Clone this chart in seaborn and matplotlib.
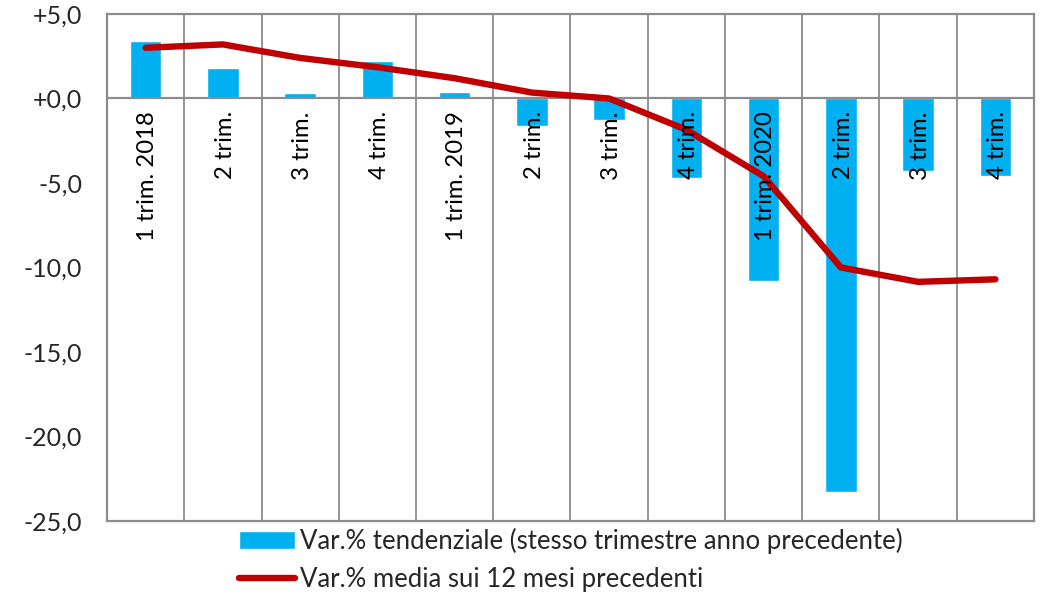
import numpy as np
import pandas as pd
import matplotlib
matplotlib.use("Agg")
import matplotlib.pyplot as plt
import seaborn as sns

# --- data ---
quarters = ["Q1 2018", "Q2 2018", "Q3 2018", "Q4 2018",
            "Q1 2019", "Q2 2019", "Q3 2019", "Q4 2019",
            "Q1 2020", "Q2 2020", "Q3 2020", "Q4 2020"]
quarter_labels = ["1 trim. 2018", "2 trim.", "3 trim.", "4 trim.",
                  "1 trim. 2019", "2 trim.", "3 trim.", "4 trim.",
                  "1 trim. 2020", "2 trim.", "3 trim.", "4 trim."]
var_tendenziale = [3.4, 1.8, 0.3, 2.2, 0.4, -1.6, -1.3, -4.7, -10.8, -23.3, -4.3, -4.6]
var_media_12m = [3.0, 3.2, 2.4, 1.85, 1.2, 0.35, 0.0, -1.85, -4.6, -10.0, -10.85, -10.7]
y_ticks = [5, 0, -5, -10, -15, -20, -25]

label_bar = "Var.% tendenziale (stesso trimestre anno precedente)"
label_line = "Var.% media sui 12 mesi precedenti"

BLUE = "#00B0F0"
RED = "#C00000"
GRID = "#8C8C8C"

df = pd.DataFrame({"quarter": quarters, "tend": var_tendenziale, "media": var_media_12m})
df["pos"] = np.arange(len(df))

sns.set_style("white")
plt.rcParams["font.family"] = ["Lato", "DejaVu Sans"]

fig = plt.figure(figsize=(10.42, 5.98), dpi=100)
ax = fig.add_axes([0.1027, 0.1288, 0.8896, 0.8478])

sns.barplot(data=df, x="quarter", y="tend", color=BLUE, saturation=1,
            width=0.41, ax=ax, label=label_bar, zorder=2)
sns.lineplot(data=df, x="pos", y="media", color=RED, linewidth=4.6,
             ax=ax, label=label_line, zorder=4, solid_capstyle="round")

ax.set_xlim(-0.5, len(df) - 0.5)
ax.set_ylim(-25, 5)
ax.set_xlabel("")
ax.set_ylabel("")

# category separators
ax.set_xticks(np.arange(len(df) + 1) - 0.5, minor=True)
ax.set_xticks([])
ax.grid(True, axis="x", which="minor", color=GRID, linewidth=1.3, zorder=1)
ax.grid(False, axis="y")
ax.tick_params(axis="x", which="both", length=0)
ax.axhline(0, color=GRID, linewidth=1.6, zorder=3)

ax.set_yticks(y_ticks)
ax.set_yticklabels([f"{v:+.1f}".replace(".", ",") for v in y_ticks], fontsize=18)
ax.tick_params(axis="y", direction="out", length=7, width=1.3, color=GRID, pad=11)

for s in ax.spines.values():
    s.set_color(GRID)
    s.set_linewidth(1.6)

# category labels inside the plot, below the zero line
for i, lab in enumerate(quarter_labels):
    ax.text(i + 0.03, -0.75, lab, rotation=90, ha="center", va="top",
            fontsize=17.2, color="black", zorder=5)

handles, labels = ax.get_legend_handles_labels()
order = [labels.index(label_bar), labels.index(label_line)]
ax.legend_.remove()
fig.legend([handles[k] for k in order], [labels[k] for k in order],
           loc="upper left", bbox_to_anchor=(0.2175, 0.138),
           frameon=False, fontsize=18.5, handlelength=2.15, handletextpad=0.2,
           labelspacing=0.5, borderpad=0)

fig.savefig("out.png", dpi=100)
